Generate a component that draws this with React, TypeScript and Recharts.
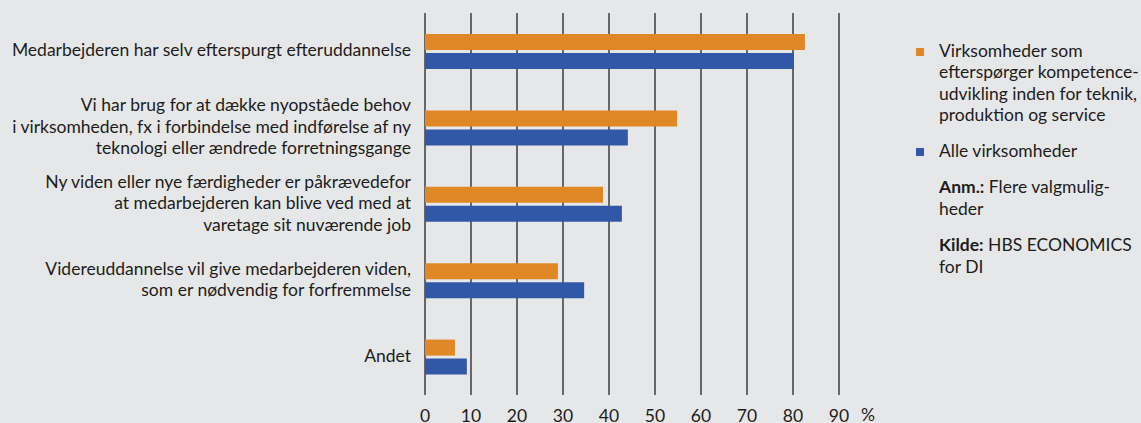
import React from "react";
import { BarChart, Bar, XAxis, YAxis, CartesianGrid } from "recharts";

const categories = [
  "Medarbejderen har selv efterspurgt efteruddannelse",
  "Vi har brug for at dække nyopståede behov\ni virksomheden, fx i forbindelse med indførelse af ny\nteknologi eller ændrede forretningsgange",
  "Ny viden eller nye færdigheder er påkrævedefor\nat medarbejderen kan blive ved med at\nvaretage sit nuværende job",
  "Videreuddannelse vil give medarbejderen viden,\nsom er nødvendig for forfremmelse",
  "Andet",
];
const techValues = [82.6, 54.8, 38.7, 28.9, 6.5];
const allValues = [80.2, 44.1, 42.8, 34.6, 9.1];
const xTicks = [0, 10, 20, 30, 40, 50, 60, 70, 80, 90];
const seriesNames = [
  "Virksomheder som\nefterspørger kompetence-\nudvikling inden for teknik,\nproduktion og service",
  "Alle virksomheder",
];

const data = categories.map((c, i) => ({ cat: c, tech: techValues[i], all: allValues[i] }));

const ORANGE = "#e08825";
const BLUE = "#3158a6";
const BG = "#e6e7e9";
const TEXT = "#1d1d1b";
const FONT = "Lato, 'Open Sans', sans-serif";
const FS = 17.5;
const LH = 21.5;

const YTick = (props: any) => {
  const { x, y, payload } = props;
  const lines: string[] = String(payload.value).split("\n");
  const start = -((lines.length - 1) / 2) * LH;
  return (
    <text x={x} y={y} textAnchor="end" fill={TEXT} fontSize={FS} fontFamily={FONT}>
      {lines.map((l, i) => (
        <tspan key={i} x={x} dy={i === 0 ? start + 5 : LH}>
          {l}
        </tspan>
      ))}
    </text>
  );
};

const legendText: React.CSSProperties = {
  position: "absolute",
  left: 939,
  fontSize: FS,
  lineHeight: LH + "px",
  color: TEXT,
  whiteSpace: "pre",
};

export default function App() {
  return (
    <div style={{ position: "absolute", left: 0, top: 0, width: 1141, height: 423, background: BG, fontFamily: FONT, overflow: "hidden" }}>
      <BarChart
        width={1141}
        height={423}
        data={data}
        layout="vertical"
        margin={{ top: 13, right: 302, bottom: 0, left: 0 }}
        barSize={16}
        barGap={3}
      >
        <CartesianGrid horizontal={false} vertical={true} stroke="#3c3c3c" strokeWidth={1.5} />
        <XAxis
          type="number"
          domain={[0, 90]}
          ticks={xTicks}
          height={28}
          axisLine={false}
          tickLine={false}
          tickMargin={8.5}
          tick={{ fill: TEXT, fontSize: FS, fontFamily: FONT }}
          interval={0}
          label={{ value: "%", position: "right", offset: 22, dy: 6, fill: TEXT, fontSize: FS, fontFamily: FONT }}
        />
        <YAxis
          type="category"
          dataKey="cat"
          width={425}
          axisLine={false}
          tickLine={false}
          tickSize={0}
          tickMargin={14}
          tick={<YTick />}
          interval={0}
        />
        <Bar dataKey="tech" fill={ORANGE} isAnimationActive={false} />
        <Bar dataKey="all" fill={BLUE} isAnimationActive={false} />
      </BarChart>
      <div style={{ position: "absolute", left: 916, top: 48, width: 8, height: 8, background: ORANGE }} />
      <div style={{ ...legendText, top: 39.5 }}>{seriesNames[0]}</div>
      <div style={{ position: "absolute", left: 916, top: 148, width: 8, height: 8, background: BLUE }} />
      <div style={{ ...legendText, top: 139.5 }}>{seriesNames[1]}</div>
      <div style={{ ...legendText, top: 176 }}>
        <b>Anm.:</b> Flere valgmulig-{"\n"}heder
      </div>
      <div style={{ ...legendText, top: 234 }}>
        <b>Kilde:</b> HBS ECONOMICS{"\n"}for DI
      </div>
    </div>
  );
}
